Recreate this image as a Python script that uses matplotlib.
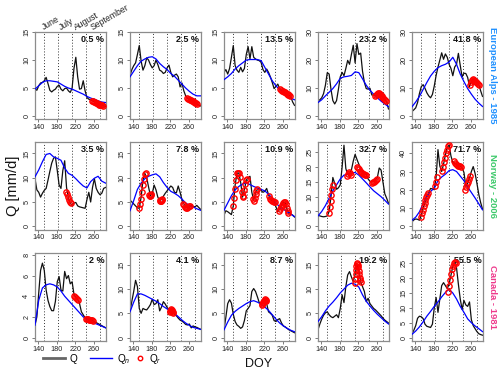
import matplotlib
matplotlib.use('Agg')
import matplotlib.pyplot as plt
import matplotlib.transforms as mtransforms
from matplotlib.lines import Line2D

plt.rcParams['font.family'] = ['Liberation Sans', 'DejaVu Sans']
plt.rcParams['mathtext.fontset'] = 'custom'
plt.rcParams['mathtext.rm'] = 'Liberation Sans'
plt.rcParams['mathtext.it'] = 'Liberation Sans:italic'

# day of year grids for the daily flow (Q) and the smooth normal flow (Qn)
doy = [133, 137, 141, 145, 149, 153, 157, 161, 165, 169, 173, 177, 181, 185, 189, 193,
       197, 201, 205, 209, 213, 217, 221, 225, 229, 233, 237, 241, 245, 249, 253, 257,
       261, 265, 269, 273, 277, 281, 285]
doy_n = [133, 141, 149, 157, 165, 173, 181, 189, 197, 205, 213, 221, 229, 237, 245, 253,
         261, 269, 277, 285]
month_lines = [152, 182, 213, 244, 274]
months = ['June', 'July', 'August', 'September']

regions = ['European Alps - 1985', 'Norway - 2006', 'Canada - 1981']
region_colors = ['#1E90FF', '#3CC96A', '#EE3A8C']

# ---- European Alps 1985 ----
alps_pct = ['0.5 %', '2.5 %', '13.5 %', '23.2 %', '41.8 %']
alps_ymax = [14.5, 14.5, 14.5, 29, 29]
alps_yticks = [[0, 5, 10, 15], [0, 5, 10, 15], [0, 5, 10, 15], [0, 10, 20, 30], [0, 10, 20, 30]]
alps_q = [
    [4.8, 4.6, 5.4, 5.9, 6.0, 6.3, 6.9, 5.8, 4.6, 4.3, 4.6, 4.8, 5.3, 5.5, 4.8, 4.5, 4.9, 5.0, 4.5, 4.2,
     5.0, 8.5, 10.5, 7.0, 4.8, 4.9, 6.3, 4.5, 3.3, 3.0, 2.9, 2.7, 2.5, 2.3, 2.2, 2.0, 1.9, 1.8, 1.7],
    [7.2, 8.3, 9.0, 9.5, 11.0, 12.6, 9.8, 8.2, 9.0, 10.4, 10.0, 9.2, 8.6, 9.0, 10.0, 9.2, 8.2, 8.0, 7.6, 7.8,
     8.6, 9.1, 7.8, 7.0, 7.3, 7.5, 7.0, 5.2, 5.9, 4.5, 3.6, 3.2, 2.9, 2.7, 2.5, 2.3, 2.2, 2.0, 1.8],
    [7.8, 8.3, 7.5, 8.5, 10.5, 12.6, 9.0, 8.2, 7.8, 8.7, 7.9, 8.5, 11.0, 12.4, 10.2, 12.4, 10.5, 10.2, 10.0, 9.9,
     9.6, 8.3, 7.8, 8.4, 7.8, 7.0, 6.0, 4.9, 5.3, 5.7, 4.9, 4.6, 4.3, 4.1, 3.9, 3.7, 3.4, 2.5, 1.9],
    [5.3, 5.8, 6.5, 8.0, 11.0, 15.5, 15.0, 9.5, 5.5, 4.3, 5.5, 9.5, 14.0, 15.6, 14.4, 17.0, 19.9, 18.5, 22.0, 25.3,
     19.0, 25.9, 22.0, 22.5, 16.0, 12.0, 9.8, 9.6, 9.9, 7.5, 7.5, 7.3, 7.8, 8.2, 7.4, 6.8, 6.0, 5.0, 2.5],
    [1.6, 2.2, 2.9, 4.8, 8.0, 10.5, 11.2, 9.9, 8.3, 7.2, 6.5, 7.7, 10.7, 14.5, 17.5, 20.0, 22.6, 20.3, 22.2, 21.0,
     18.5, 17.0, 14.4, 17.5, 18.5, 22.4, 18.1, 14.0, 15.3, 15.2, 13.8, 10.5, 12.5, 13.2, 12.6, 12.0, 11.2, 9.0, 7.0],
]
alps_qn = [
    [4.8, 5.4, 6.0, 6.3, 6.3, 6.2, 6.1, 5.7, 5.3, 5.0, 4.8, 4.5, 4.2, 3.9, 3.5, 3.2, 3.0, 2.7, 2.5, 2.4],
    [7.0, 8.0, 9.0, 9.8, 10.2, 10.5, 10.6, 10.2, 9.4, 8.8, 8.3, 7.6, 7.1, 6.4, 5.7, 5.0, 4.4, 3.9, 3.6, 3.6],
    [6.5, 7.0, 7.6, 8.4, 9.0, 9.5, 10.0, 10.1, 10.1, 10.1, 9.9, 8.7, 7.5, 6.3, 5.4, 4.7, 4.1, 3.6, 3.2, 2.9],
    [4.8, 5.8, 7.2, 8.5, 9.8, 11.5, 13.5, 14.0, 14.2, 14.5, 15.8, 15.5, 13.3, 11.0, 9.2, 7.8, 6.5, 5.3, 4.3, 3.3],
    [3.3, 5.0, 7.0, 9.5, 12.0, 14.3, 16.0, 17.3, 18.0, 18.5, 19.3, 21.0, 18.5, 15.0, 12.3, 9.8, 7.8, 6.0, 4.6, 3.4],
]
alps_qr_doy = [
    [256, 258, 260, 262, 264, 266, 268, 270, 272, 274, 276, 278, 280],
    [256, 258, 260, 262, 264, 266, 268, 270, 272, 274, 276, 278],
    [254, 256, 258, 260, 262, 264, 266, 268, 270, 272, 274, 276],
    [256, 258, 260, 262, 264, 266, 268, 270, 272, 274, 276, 278, 280],
    [258, 260, 262, 264, 266, 268, 270, 272, 274, 276, 278],
]
alps_qr = [
    [2.7, 2.6, 2.5, 2.45, 2.35, 2.3, 2.2, 2.15, 2.05, 2.0, 1.95, 1.9, 1.85],
    [3.2, 3.1, 3.0, 2.9, 2.8, 2.7, 2.65, 2.55, 2.45, 2.35, 2.3, 2.2],
    [4.8, 4.6, 4.5, 4.4, 4.3, 4.2, 4.1, 4.0, 3.9, 3.8, 3.7, 3.6],
    [7.2, 7.5, 7.8, 8.1, 8.2, 8.0, 7.6, 7.2, 6.8, 6.4, 6.0, 5.7, 5.4],
    [11.0, 12.2, 12.9, 13.2, 13.0, 12.6, 12.3, 12.0, 11.7, 11.4, 11.0],
]

# ---- Norway 2006 ----
norway_pct = ['3.5 %', '7.8 %', '10.9 %', '32.7 %', '71.7 %']
norway_ymax = [16.7, 16.7, 16.7, 27.4, 44.4]
norway_yticks = [[0, 5, 10, 15], [0, 5, 10, 15], [0, 5, 10, 15], [0, 5, 10, 15, 20, 25], [0, 10, 20, 30, 40]]
norway_q = [
    [9.8, 7.5, 7.0, 6.0, 6.8, 7.4, 7.8, 9.5, 11.3, 13.0, 14.0, 14.3, 11.5, 8.5, 7.8, 11.5, 13.5, 8.0, 5.8, 4.8,
     4.3, 4.8, 4.9, 4.2, 4.0, 3.9, 3.8, 3.7, 5.5, 7.0, 5.0, 8.0, 9.8, 7.8, 7.0, 6.5, 6.8, 7.8, 8.0],
    [5.4, 5.0, 4.6, 4.2, 3.8, 3.7, 6.0, 9.5, 10.9, 10.0, 8.1, 6.3, 6.8, 8.5, 7.5, 6.0, 5.3, 5.5, 6.2, 6.8,
     7.3, 7.8, 8.3, 8.0, 7.0, 6.9, 8.3, 7.0, 5.5, 4.6, 4.2, 3.8, 3.9, 4.3, 4.1, 4.0, 4.3, 3.9, 3.5],
    [2.3, 3.2, 3.0, 2.7, 2.4, 4.2, 8.5, 10.9, 11.0, 9.0, 6.0, 7.5, 9.5, 10.0, 10.3, 7.0, 5.4, 6.8, 7.6, 7.8,
     7.4, 7.0, 7.2, 7.8, 6.5, 5.5, 5.2, 5.0, 4.0, 3.0, 3.5, 4.3, 5.0, 4.8, 3.5, 2.6, 2.5, 2.3, 1.9],
    [3.7, 3.5, 3.3, 3.2, 3.3, 3.5, 5.0, 10.0, 16.5, 14.5, 12.5, 13.0, 14.0, 20.0, 27.4, 19.5, 17.5, 17.8, 19.0, 22.0,
     24.3, 22.6, 21.0, 19.5, 18.5, 18.0, 17.5, 16.0, 15.2, 15.0, 15.3, 15.8, 16.5, 19.7, 19.0, 15.0, 11.0, 9.5, 7.8],
    [2.4, 3.5, 4.0, 3.8, 3.3, 6.0, 10.0, 13.0, 16.0, 18.5, 20.7, 20.5, 20.0, 27.0, 42.0, 33.0, 30.0, 34.0, 39.0, 43.5,
     44.4, 38.5, 35.0, 34.5, 34.0, 33.5, 33.0, 32.0, 29.5, 22.0, 23.5, 26.5, 30.0, 32.7, 29.0, 23.5, 17.5, 13.0, 9.5],
]
norway_qn = [
    [10.2, 11.6, 13.3, 14.8, 15.0, 14.3, 14.0, 13.6, 12.0, 10.9, 10.5, 9.8, 9.0, 8.3, 7.9, 9.2, 9.9, 10.3, 9.3, 8.9],
    [3.2, 5.3, 7.6, 8.9, 9.8, 10.3, 10.6, 10.8, 10.2, 9.0, 8.0, 7.2, 6.8, 6.3, 5.6, 4.8, 4.3, 4.0, 3.6, 3.3],
    [3.3, 4.8, 6.3, 7.5, 8.2, 8.7, 8.9, 8.6, 8.2, 7.9, 7.6, 7.3, 6.6, 5.8, 4.8, 4.0, 3.5, 3.0, 2.5, 2.0],
    [3.5, 5.0, 7.0, 9.5, 12.0, 14.0, 16.0, 17.3, 17.5, 18.0, 18.2, 17.3, 16.0, 14.7, 13.3, 12.0, 11.0, 10.0, 8.8, 7.5],
    [3.3, 5.0, 7.9, 12.5, 16.5, 19.0, 21.0, 25.0, 27.0, 28.5, 30.5, 31.0, 30.0, 27.5, 25.0, 21.5, 18.5, 15.5, 12.3, 9.0],
]
norway_qr_doy = [
    [200, 202, 204, 206, 208, 210],
    [153, 155, 157, 159, 161, 163, 165, 167, 175, 176, 177, 178, 179, 197, 198, 199, 200, 201, 202,
     248, 250, 252, 254, 256, 258, 260, 262],
    [153, 155, 157, 159, 161, 163, 165, 167, 171, 173, 175, 177, 179, 181, 183, 195, 197, 199, 201, 203, 205,
     230, 232, 234, 236, 238, 240, 242, 252, 254, 256, 258, 260, 262, 264, 266, 268, 270, 272],
    [156, 158, 160, 162, 164, 166, 196, 198, 200, 202, 204, 218, 220, 222, 224, 226, 228, 230, 232, 234, 236,
     250, 252, 254, 256, 258, 260],
    [152, 154, 156, 158, 160, 162, 164, 166, 168, 182, 184, 186, 198, 200, 202, 204, 206, 208, 210, 212,
     224, 226, 228, 230, 232, 234, 236, 238, 248, 250, 252, 254, 256, 258],
]
norway_qr = [
    [7.1, 6.6, 6.0, 5.5, 5.1, 4.8],
    [3.8, 4.5, 5.6, 7.0, 8.5, 9.8, 10.8, 10.9, 6.5, 6.3, 6.2, 6.4, 6.6, 5.4, 5.3, 5.2, 5.3, 5.4, 5.6,
     4.6, 4.3, 4.0, 3.8, 3.8, 3.9, 4.1, 4.2],
    [4.2, 5.8, 7.7, 9.5, 10.9, 11.0, 11.0, 10.2, 7.0, 6.0, 6.2, 7.4, 8.8, 9.5, 9.8, 5.6, 5.3, 5.8, 6.7, 7.3, 7.6,
     6.2, 5.6, 5.4, 5.3, 5.2, 5.1, 5.0, 3.2, 3.6, 4.0, 4.4, 4.8, 5.0, 4.9, 4.5, 3.8, 3.2, 2.7],
    [4.5, 6.5, 8.5, 10.5, 12.5, 14.0, 17.0, 17.8, 18.5, 18.0, 17.5, 20.0, 19.8, 19.3, 18.8, 18.3, 18.0, 17.8, 17.6,
     17.5, 17.3, 14.6, 14.8, 15.0, 15.3, 15.6, 16.0],
    [5.1, 7.0, 9.0, 11.0, 13.0, 14.5, 16.0, 17.0, 18.0, 22.0, 24.5, 27.0, 30.5, 32.5, 35.0, 37.5, 40.0, 42.0, 44.0,
     44.5, 35.5, 34.5, 34.0, 33.5, 33.0, 33.0, 32.8, 32.5, 20.0, 21.5, 23.0, 24.5, 26.0, 27.5],
]

# ---- Canada 1981 ----
canada_pct = ['2 %', '4.1 %', '8.7 %', '19.2 %', '55.5 %']
canada_ymax = [7.84, 16.7, 16.7, 16.7, 27.3]
canada_yticks = [[0, 2, 4, 6, 8], [0, 5, 10, 15], [0, 5, 10, 15], [0, 5, 10, 15], [0, 5, 10, 15, 20, 25]]
canada_q = [
    [1.2, 2.0, 4.3, 6.5, 7.2, 6.5, 4.6, 3.6, 3.0, 2.6, 2.6, 3.5, 5.4, 5.9, 4.6, 4.5, 6.4, 5.7, 6.0, 5.2,
     5.4, 4.2, 3.9, 3.7, 3.3, 2.5, 2.2, 1.9, 1.8, 1.75, 1.7, 1.65, 1.55, 1.45, 1.35, 1.25, 1.15, 1.05, 0.95],
    [5.3, 7.5, 9.5, 11.8, 10.5, 6.0, 5.0, 6.0, 5.8, 5.7, 6.2, 6.8, 7.9, 6.8, 7.0, 7.8, 5.5, 6.3, 7.4, 6.9,
     6.2, 5.8, 5.5, 5.2, 4.8, 4.5, 4.0, 3.6, 3.4, 3.1, 2.7, 2.6, 2.8, 2.0, 2.4, 2.2, 2.1, 1.9, 1.7],
    [1.6, 4.2, 7.0, 7.8, 7.1, 4.8, 3.3, 2.6, 2.3, 1.9, 2.2, 3.5, 5.5, 6.0, 6.6, 9.5, 10.1, 9.5, 8.4, 7.2,
     6.8, 7.3, 7.8, 7.0, 5.3, 5.0, 4.6, 3.5, 3.3, 3.7, 3.9, 3.0, 2.4, 2.2, 1.9, 1.6, 1.4, 1.2, 1.0],
    [1.6, 2.8, 3.8, 4.6, 5.1, 5.3, 4.7, 4.3, 4.1, 4.4, 4.7, 4.1, 6.0, 8.8, 7.2, 10.5, 12.9, 13.6, 12.5, 11.5,
     13.0, 15.0, 13.8, 11.5, 10.5, 9.5, 7.4, 8.1, 7.0, 6.5, 6.0, 5.7, 5.3, 4.9, 4.5, 4.0, 3.6, 3.3, 3.0],
    [1.3, 2.5, 4.0, 6.5, 7.2, 7.0, 6.4, 4.5, 3.8, 3.6, 3.4, 4.5, 10.0, 13.5, 8.5, 13.0, 17.5, 18.5, 17.5, 16.5,
     18.0, 21.0, 24.0, 25.5, 23.5, 18.0, 13.0, 9.5, 12.5, 11.0, 10.5, 12.0, 6.0, 4.0, 3.0, 2.0, 1.3, 1.0, 0.8],
]
canada_qn = [
    [1.2, 3.6, 4.8, 5.1, 5.2, 5.1, 4.9, 4.5, 4.0, 3.6, 3.2, 2.8, 2.4, 2.0, 1.75, 1.55, 1.4, 1.25, 1.1, 0.95],
    [5.3, 7.3, 9.0, 9.0, 8.7, 8.3, 7.9, 7.5, 7.0, 6.4, 5.9, 5.5, 5.0, 4.3, 3.6, 3.0, 2.5, 2.1, 1.9, 1.7],
    [1.6, 3.2, 4.6, 5.4, 6.0, 6.5, 7.0, 7.4, 7.6, 7.3, 6.9, 6.3, 5.6, 4.7, 3.8, 3.0, 2.4, 1.9, 1.5, 1.2],
    [3.3, 4.3, 5.5, 6.5, 7.3, 8.2, 9.2, 10.0, 10.8, 11.2, 11.0, 10.4, 8.8, 7.5, 6.5, 5.6, 4.8, 4.1, 3.4, 2.8],
    [1.1, 2.2, 3.6, 5.3, 7.2, 8.8, 10.5, 12.0, 13.7, 15.2, 16.3, 15.0, 13.0, 10.5, 8.5, 6.3, 5.0, 3.9, 3.0, 2.0],
]
canada_qr_doy = [
    [218, 220, 222, 224, 226, 244, 246, 248, 250, 252, 254, 256, 258],
    [219, 220, 221, 222, 223, 224, 225, 226],
    [215, 216, 217, 218, 219, 220, 221, 222, 223, 224],
    [212, 213, 214, 215, 216, 217, 218, 219, 220, 221, 222, 223, 224, 225],
    [211, 213, 215, 217, 219, 221, 223, 225, 227],
]
canada_qr = [
    [4.0, 3.9, 3.8, 3.7, 3.6, 1.8, 1.78, 1.76, 1.74, 1.72, 1.7, 1.68, 1.65],
    [5.2, 5.5, 5.7, 5.8, 5.7, 5.5, 5.3, 5.1],
    [6.7, 6.9, 7.1, 7.3, 7.5, 7.6, 7.8, 7.9, 7.8, 7.6],
    [11.2, 12.0, 13.0, 14.0, 14.8, 15.2, 15.3, 15.0, 14.5, 13.8, 13.0, 12.3, 11.8, 11.5],
    [15.5, 17.5, 19.5, 21.5, 23.0, 24.0, 25.0, 25.5, 25.0],
]

rows = [
    (alps_q, alps_qn, alps_qr_doy, alps_qr, alps_pct, alps_ymax, alps_yticks),
    (norway_q, norway_qn, norway_qr_doy, norway_qr, norway_pct, norway_ymax, norway_yticks),
    (canada_q, canada_qn, canada_qr_doy, canada_qr, canada_pct, canada_ymax, canada_yticks),
]

W, H = 500, 372
fig = plt.figure(figsize=(W / 100, H / 100), dpi=100)

col_left = [35, 130, 224, 318, 412]
row_top = [31.7, 142, 253.3]
pw, ph = 70.5, 87.5

axes = []
for r, (q, qn, qr_doy, qr, pct, ymax, yticks) in enumerate(rows):
    for c in range(5):
        ax = fig.add_axes([col_left[c] / W, 1 - (row_top[r] + ph) / H, pw / W, ph / H])
        axes.append(ax)
        for m in month_lines:
            ax.axvline(m, color='#333333', lw=0.7, ls=(0, (1, 2)), zorder=1)
        ax.plot(doy, q[c], color='#111111', lw=0.9, zorder=2)
        ax.plot(doy_n, qn[c], color='#0000FF', lw=0.9, zorder=3)
        ax.plot(qr_doy[c], qr[c], ls='none', marker='o', ms=3.8, mfc='none',
                mec='#FF0000', mew=1.0, zorder=4)
        ax.set_xlim(133, 285)
        ax.set_ylim(-0.04 * ymax[c], 1.04 * ymax[c])
        ax.set_xticks([140, 180, 220, 260])
        ax.set_yticks(yticks[c])
        ax.tick_params(labelsize=5.2, length=2.2, width=0.6, pad=1.2, color='#666666',
                       labelcolor='#222222')
        ax.tick_params(axis='y', labelrotation=90)
        for lbl in ax.get_yticklabels():
            lbl.set_va('center')
        for s in ax.spines.values():
            s.set_color('#8c8c8c')
            s.set_linewidth(0.9)
        ax.text(0.985, 0.965, pct[c], transform=ax.transAxes, ha='right', va='top',
                fontsize=6.5, fontweight='bold', color='#111111')
    # region title on the right
    yc = 1 - (row_top[r] + ph / 2) / H
    fig.text(0.985, yc, regions[r], rotation=-90, ha='center', va='center',
             fontsize=6.8, fontweight='bold', color=region_colors[r])

# month names above the first panel
ax0 = axes[0]
trans = mtransforms.blended_transform_factory(ax0.transData, ax0.transAxes)
for name, xm in zip(months, [153, 189, 222, 258]):
    ax0.text(xm, 1.02, name, transform=trans, rotation=30, rotation_mode='anchor',
             ha='left', va='baseline', fontsize=6.2, color='#222222')

fig.text(0.026, 0.5, 'Q [mm/d]', rotation=90, ha='center', va='center', fontsize=10.5,
         color='#111111')
fig.text(0.517, 0.022, 'DOY', ha='center', va='center', fontsize=9, color='#111111')

# legend entries placed one by one, like the R legend
legend_items = [
    (Line2D([], [], color='#666666', lw=2), 'Q', 0.086, 2.2),
    (Line2D([], [], color='#0000FF', lw=1), 'Q$_n$', 0.18, 2.2),
    (Line2D([], [], ls='none', marker='o', ms=3.2, mfc='none', mec='#FF0000', mew=1), 'Q$_r$', 0.272, 0.8),
]
for h, lab, x0, hl in legend_items:
    fig.legend([h], [lab], loc='center left', bbox_to_anchor=(x0, 0.036), frameon=False,
               fontsize=7.2, handlelength=hl, handletextpad=0.5, borderpad=0, borderaxespad=0)

fig.savefig('out.png', dpi=100)
